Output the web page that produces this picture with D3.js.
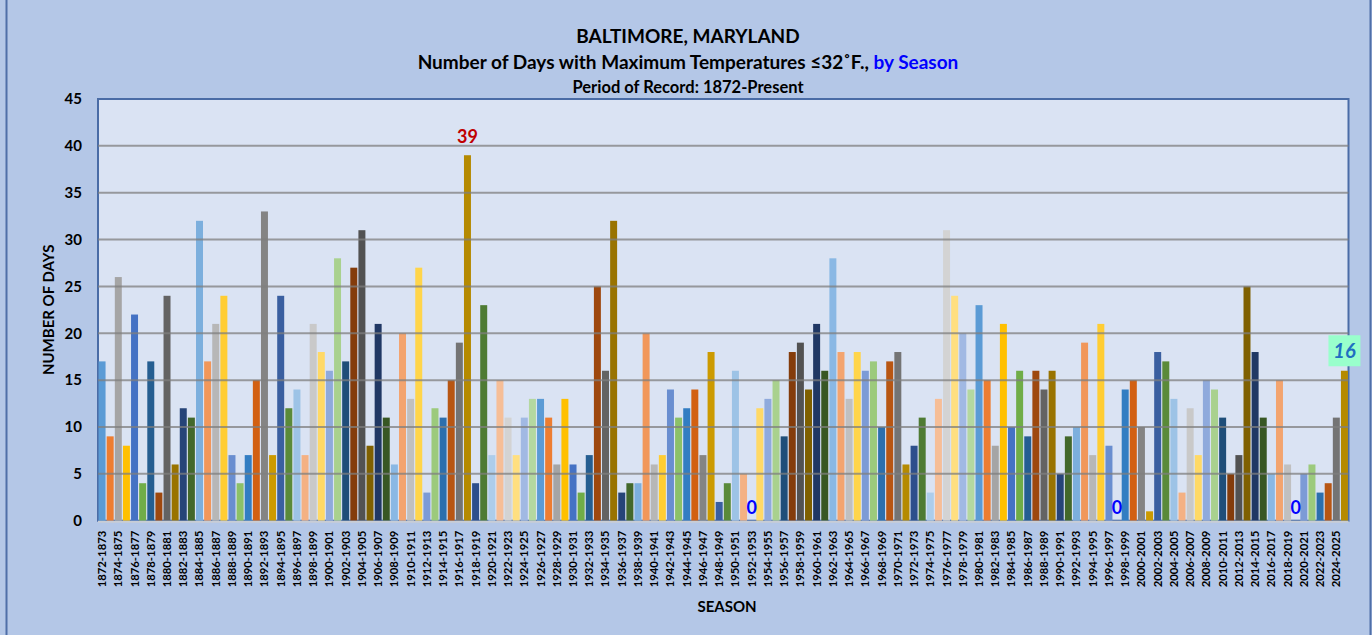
<!DOCTYPE html>
<html>
<head>
<meta charset="utf-8">
<script src="https://cdn.jsdelivr.net/npm/d3@7"></script>
<style>
  body { margin: 0; background: #B4C7E7; }
  svg { display: block; font-family: Lato, "Open Sans", sans-serif; }
</style>
</head>
<body>
<div id="chart"></div>
<script>
// Seasons 1872-1873 .. 2025-2026 (last one is the current season)
const firstYear = 1872;
const seasonCount = 154;
const seasons = d3.range(seasonCount).map(i => (firstYear + i) + "-" + (firstYear + i + 1));

// Days with max temp <= 32F
const days = [
  17, 9, 26, 8, 22, 4, 17, 3, 24, 6, 12, 11, 32, 17, 21, 24, 7, 4, 7, 15, 33, 7, 24, 12, 14, 7,
  21, 18, 16, 28, 17, 27, 31, 8, 21, 11, 6, 20, 13, 27, 3, 12, 11, 15, 19, 39, 4, 23, 7, 15, 11, 7,
  11, 13, 13, 11, 6, 13, 6, 3, 7, 25, 16, 32, 3, 4, 4, 20, 6, 7, 14, 11, 12, 14, 7, 18, 2, 4,
  16, 5, 0, 12, 13, 15, 9, 18, 19, 14, 21, 16, 28, 18, 13, 18, 16, 17, 10, 17, 18, 6, 8, 11, 3, 13,
  31, 24, 20, 14, 23, 15, 8, 21, 10, 16, 9, 16, 14, 16, 5, 9, 10, 19, 7, 21, 8, 0, 14, 15, 10, 1,
  18, 17, 13, 3, 12, 7, 15, 14, 11, 5, 7, 25, 18, 11, 5, 15, 6, 0, 5, 6, 3, 4, 11, 16
];

// Office-style bar colours, one per bar, repeating every 54 bars
const palette = [
  "#5B9BD5", "#ED7D31", "#A5A5A5", "#FFC000", "#4472C4", "#70AD47",
  "#255E91", "#9E480E", "#636363", "#997300", "#264478", "#43682B",
  "#7CAFDD", "#F1975A", "#B7B7B7", "#FFCD33", "#698ED0", "#8CC168",
  "#327DC2", "#D26012", "#848484", "#CC9A00", "#3A5FA0", "#5A8A39",
  "#9DC3E6", "#F4B183", "#C9C9C9", "#FFD966", "#8FAADC", "#A9D18E",
  "#1F4E79", "#843C0B", "#525252", "#7F6000", "#203864", "#385723",
  "#8AB8E4", "#F3A46F", "#C0C0C0", "#FFD54A", "#7C9BD6", "#9CCA7C",
  "#2C6FAD", "#B85613", "#747474", "#B58A00", "#2D4F8C", "#4E7B33",
  "#ADCDEB", "#F6BE97", "#D3D3D3", "#FFDF80", "#A1B9E3", "#B4D8A0"
];

const yTicks = [0, 5, 10, 15, 20, 25, 30, 35, 40, 45];

const W = 1372, H = 635;
const plot = { left: 98, right: 1348.5, top: 99, bottom: 520.7 };

const svg = d3.select("#chart").append("svg")
    .attr("width", W)
    .attr("height", H);

// outer background + side frame lines
svg.append("rect").attr("width", W).attr("height", H).attr("fill", "#B4C7E7");
svg.append("line").attr("x1", 6.5).attr("x2", 6.5).attr("y1", 0).attr("y2", H)
    .attr("stroke", "#4F6FA8").attr("stroke-width", 2);
svg.append("line").attr("x1", 1370.5).attr("x2", 1370.5).attr("y1", 0).attr("y2", H)
    .attr("stroke", "#4F6FA8").attr("stroke-width", 2);

// Scales
const x = d3.scaleBand()
    .domain(seasons)
    .range([plot.left, plot.right])
    .paddingInner(0.14)
    .paddingOuter(0.07);

const y = d3.scaleLinear()
    .domain([0, 45])
    .range([plot.bottom, plot.top]);

// Plot area
svg.append("rect")
    .attr("x", plot.left).attr("y", plot.top)
    .attr("width", plot.right - plot.left)
    .attr("height", plot.bottom - plot.top)
    .attr("fill", "#DAE3F3")
    .attr("stroke", "#4A6CA6")
    .attr("stroke-width", 2);

// Bars
svg.append("g").selectAll("rect")
    .data(days)
    .enter()
    .append("rect")
    .attr("x", (d, i) => x(seasons[i]))
    .attr("y", d => y(d))
    .attr("width", x.bandwidth())
    .attr("height", d => y(0) - y(d))
    .attr("fill", (d, i) => palette[i % palette.length]);

// Gridlines (drawn over the bars, half see-through like the original)
svg.append("g").selectAll("line")
    .data(yTicks.filter(t => t > 0 && t < 45))
    .enter()
    .append("line")
    .attr("x1", plot.left).attr("x2", plot.right)
    .attr("y1", d => y(d)).attr("y2", d => y(d))
    .attr("stroke", "#7F7F7F")
    .attr("stroke-opacity", 0.75)
    .attr("stroke-width", 2);

// baseline
svg.append("line")
    .attr("x1", plot.left).attr("x2", plot.right)
    .attr("y1", y(0) + 1).attr("y2", y(0) + 1)
    .attr("stroke", "#C8CDD6").attr("stroke-width", 2);

// Y axis
const yAxis = svg.append("g")
    .attr("transform", `translate(${plot.left},0)`)
    .call(d3.axisLeft(y).tickValues(yTicks).tickSize(0).tickPadding(16));
yAxis.select(".domain").remove();
yAxis.selectAll("text")
    .attr("font-family", "Lato, sans-serif")
    .attr("font-size", 15)
    .attr("font-weight", "bold")
    .attr("fill", "#000");

// X axis: every other season labelled
const xAxis = svg.append("g")
    .attr("transform", `translate(0,${plot.bottom})`)
    .call(d3.axisBottom(x).tickValues(seasons.filter((d, i) => i % 2 === 0)).tickSize(0));
xAxis.select(".domain").remove();
xAxis.selectAll("text")
    .attr("font-family", "Lato, sans-serif")
    .attr("font-size", 11.3)
    .attr("font-weight", "bold")
    .attr("fill", "#000")
    .attr("transform", "rotate(-90)")
    .attr("text-anchor", "end")
    .attr("x", -10)
    .attr("y", 0)
    .attr("dy", "0.35em");

// Axis titles
svg.append("text")
    .attr("transform", `translate(54,${(plot.top + plot.bottom) / 2}) rotate(-90)`)
    .attr("text-anchor", "middle")
    .attr("font-size", 15)
    .attr("font-weight", "bold")
    .text("NUMBER OF DAYS");

svg.append("text")
    .attr("x", 727).attr("y", 612)
    .attr("text-anchor", "middle")
    .attr("font-size", 15)
    .attr("font-weight", "bold")
    .text("SEASON");

// Titles
svg.append("text")
    .attr("x", 688).attr("y", 43)
    .attr("text-anchor", "middle")
    .attr("font-size", 19)
    .attr("font-weight", "bold")
    .text("BALTIMORE, MARYLAND");

const sub = svg.append("text")
    .attr("x", 688).attr("y", 69)
    .attr("text-anchor", "middle")
    .attr("font-size", 19)
    .attr("font-weight", "bold");
sub.append("tspan").text("Number of Days with Maximum Temperatures \u226432\u02DAF., ");
sub.append("tspan").attr("fill", "#0000FF").text("by Season");

svg.append("text")
    .attr("x", 688).attr("y", 93)
    .attr("text-anchor", "middle")
    .attr("font-size", 16.5)
    .attr("font-weight", "bold")
    .text("Period of Record: 1872-Present");

// Data labels: record max, zero seasons, current season
const labels = svg.append("g");
const maxVal = d3.max(days);
const maxIdx = days.indexOf(maxVal);
labels.append("text")
    .attr("x", x(seasons[maxIdx]) + x.bandwidth() / 2)
    .attr("y", y(maxVal) - 19)
    .attr("dy", "0.35em")
    .attr("text-anchor", "middle")
    .attr("font-size", 18)
    .attr("font-weight", "bold")
    .attr("fill", "#C00000")
    .text(maxVal);

const zeroIdx = days.map((d, i) => d === 0 ? i : -1).filter(i => i >= 0);
labels.selectAll(".zero")
    .data(zeroIdx)
    .enter()
    .append("text")
    .attr("class", "zero")
    .attr("x", i => x(seasons[i]) + x.bandwidth() / 2)
    .attr("y", y(0) - 13)
    .attr("dy", "0.35em")
    .attr("text-anchor", "middle")
    .attr("font-size", 18)
    .attr("font-weight", "bold")
    .attr("fill", "#0000FF")
    .text("0");

const lastIdx = days.length - 1;
const lastX = x(seasons[lastIdx]) + x.bandwidth() / 2;
const lastY = y(days[lastIdx]) - 20;
labels.append("rect")
    .attr("x", lastX - 16).attr("y", lastY - 15.5)
    .attr("width", 32).attr("height", 31)
    .attr("fill", "#99FFCC");
labels.append("text")
    .attr("x", lastX).attr("y", lastY)
    .attr("dy", "0.35em")
    .attr("text-anchor", "middle")
    .attr("font-size", 20)
    .attr("font-weight", "bold")
    .attr("font-style", "italic")
    .attr("fill", "#1F6FC1")
    .text(days[lastIdx]);
</script>
</body>
</html>
